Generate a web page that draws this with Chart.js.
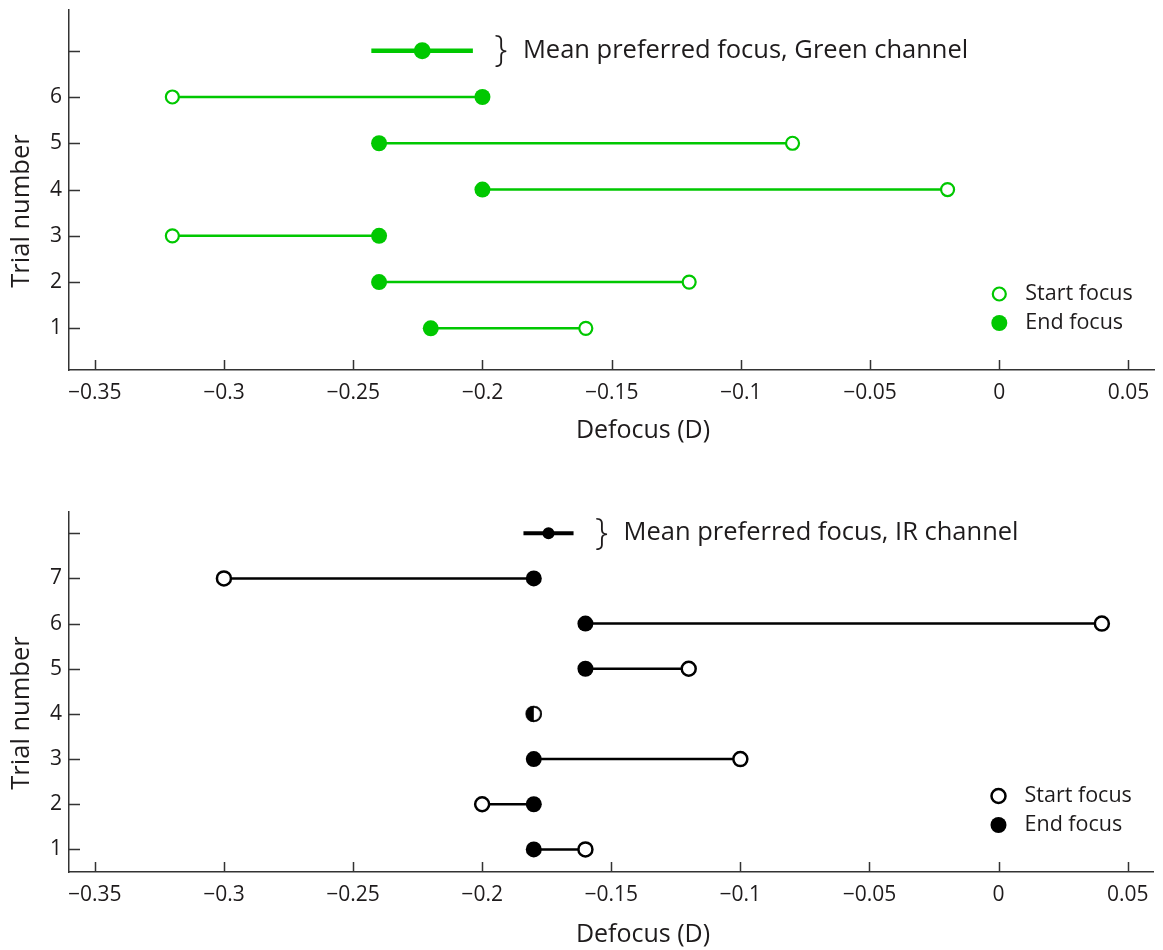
<!DOCTYPE html>
<html>
<head>
<meta charset="utf-8">
<script src="https://cdn.jsdelivr.net/npm/chart.js@4.4.1/dist/chart.umd.min.js"></script>
<style>
  html, body { margin: 0; padding: 0; background: #fff; }
  #wrap { position: relative; width: 1163px; height: 950px; overflow: hidden; }
  .box { position: absolute; left: 0; width: 1163px; }
  #boxTop { top: 0; height: 446px; }
  #boxBot { top: 490px; height: 460px; }
</style>
</head>
<body>
<div id="wrap">
  <div class="box" id="boxTop"><canvas id="cTop" width="1163" height="446"></canvas></div>
  <div class="box" id="boxBot"><canvas id="cBot" width="1163" height="460"></canvas></div>
</div>
<script>
// ---------------- DATA ----------------
const xTicks = [-0.35, -0.3, -0.25, -0.2, -0.15, -0.1, -0.05, 0, 0.05];

// Green channel (top)
const greenTrials = [1, 2, 3, 4, 5, 6];
const greenStart  = [-0.16, -0.12, -0.32, -0.02, -0.08, -0.32];
const greenEnd    = [-0.22, -0.24, -0.24, -0.20, -0.24, -0.20];
const greenMean   = -0.2233;
const greenMeanLo = -0.2430;
const greenMeanHi = -0.2037;
const greenYTicks = [1, 2, 3, 4, 5, 6, 7];
const greenYLabels = ['1', '2', '3', '4', '5', '6', ''];

// IR channel (bottom)
const irTrials = [1, 2, 3, 4, 5, 6, 7];
const irStart  = [-0.16, -0.20, -0.10, -0.18, -0.12, 0.04, -0.30];
const irEnd    = [-0.18, -0.18, -0.18, -0.18, -0.16, -0.16, -0.18];
const irMean   = -0.1743;
const irMeanLo = -0.1840;
const irMeanHi = -0.1646;
const irYTicks = [1, 2, 3, 4, 5, 6, 7, 8];
const irYLabels = ['1', '2', '3', '4', '5', '6', '7', ''];

// ---------------- HELPERS ----------------
const FONT = '"Open Sans", Lato, "DejaVu Sans", sans-serif';
const TEXT_COLOR = '#1e1b1c';
const AXIS_COLOR = '#333333';

function fmtX(v) {
  if (Math.abs(v) < 1e-9) return '0';
  const s = String(parseFloat(Math.abs(v).toFixed(2)));
  return (v < 0 ? '\u2212' : '') + s;
}

function halfMarker(r, color) {
  const s = Math.ceil(r * 2 + 4);
  const c = document.createElement('canvas');
  c.width = s; c.height = s;
  const g = c.getContext('2d');
  const cx = s / 2, cy = s / 2;
  g.fillStyle = '#fff';
  g.beginPath(); g.arc(cx, cy, r, 0, Math.PI * 2); g.fill();
  g.fillStyle = color;
  g.beginPath(); g.moveTo(cx, cy - r); g.arc(cx, cy, r, -Math.PI / 2, Math.PI / 2, true); g.closePath(); g.fill();
  g.strokeStyle = color; g.lineWidth = 1.8;
  g.beginPath(); g.arc(cx, cy, r - 0.9, 0, Math.PI * 2); g.stroke();
  return c;
}

function segmentData(trials, a, b) {
  const out = [];
  trials.forEach((t, i) => {
    out.push({ x: a[i], y: t });
    out.push({ x: b[i], y: t });
    out.push({ x: b[i], y: null });
  });
  return out;
}

function decorPlugin(cfg) {
  return {
    id: 'decor_' + cfg.id,
    afterDraw(chart) {
      const ctx = chart.ctx;
      const area = chart.chartArea;
      const xs = chart.scales.x, ys = chart.scales.y;
      ctx.save();
      // inward ticks
      ctx.strokeStyle = AXIS_COLOR;
      ctx.lineWidth = 1.5;
      ctx.beginPath();
      xs.ticks.forEach(t => {
        const px = Math.round(xs.getPixelForValue(t.value)) + 0.5;
        ctx.moveTo(px, area.bottom);
        ctx.lineTo(px, area.bottom - 10);
      });
      ys.ticks.forEach(t => {
        const py = Math.round(ys.getPixelForValue(t.value)) + 0.5;
        ctx.moveTo(area.left, py);
        ctx.lineTo(area.left + 11, py);
      });
      ctx.stroke();

      // axis titles
      ctx.fillStyle = TEXT_COLOR;
      ctx.font = '25px ' + FONT;
      ctx.textAlign = 'center';
      ctx.textBaseline = 'middle';
      ctx.fillText('Defocus (D)', cfg.xTitleX, cfg.xTitleY);
      ctx.save();
      ctx.translate(22, (area.top + area.bottom) / 2 + 21);
      ctx.rotate(-Math.PI / 2);
      ctx.font = '25.5px ' + FONT;
      ctx.fillText('Trial number', 0, 0);
      ctx.restore();

      // mean legend: brace + text
      const hiPx = xs.getPixelForValue(cfg.meanHi);
      const yPx = ys.getPixelForValue(cfg.meanY);
      ctx.font = '300 37px ' + FONT;
      ctx.textAlign = 'center';
      ctx.fillText('}', hiPx + 28, yPx);
      ctx.font = '25.5px ' + FONT;
      ctx.textAlign = 'left';
      ctx.fillText(cfg.meanText, hiPx + 50, yPx);

      // start / end legend
      const lx = area.right - 155;
      const ly1 = area.bottom - 76, ly2 = area.bottom - 47;
      ctx.lineWidth = cfg.openBorder;
      ctx.strokeStyle = cfg.color;
      ctx.fillStyle = '#fff';
      ctx.beginPath(); ctx.arc(lx, ly1, cfg.openR, 0, Math.PI * 2); ctx.fill(); ctx.stroke();
      ctx.fillStyle = cfg.color;
      ctx.beginPath(); ctx.arc(lx, ly2, cfg.fillR, 0, Math.PI * 2); ctx.fill();
      ctx.fillStyle = TEXT_COLOR;
      ctx.font = '21.5px ' + FONT;
      ctx.textAlign = 'left';
      ctx.fillText('Start focus', lx + 26, ly1);
      ctx.fillText('End focus', lx + 26, ly2);
      ctx.restore();
    }
  };
}

function makeChart(canvasId, opt) {
  const endStyles = opt.trials.map((t, i) =>
    opt.start[i] === opt.end[i] ? halfMarker(opt.fillR, opt.color) : 'circle');
  const datasets = [
    { // end focus (filled)
      data: opt.trials.map((t, i) => ({ x: opt.end[i], y: t })),
      showLine: false, pointStyle: endStyles,
      pointRadius: opt.fillR, pointBackgroundColor: opt.color, pointBorderColor: opt.color,
      pointBorderWidth: 0, order: 1
    },
    { // start focus (open)
      data: opt.trials.map((t, i) => ({ x: opt.start[i], y: t })),
      showLine: false, pointStyle: 'circle',
      pointRadius: opt.openR, pointBackgroundColor: '#fff', pointBorderColor: opt.color,
      pointBorderWidth: opt.openBorder, order: 2
    },
    { // connectors
      data: segmentData(opt.trials, opt.start, opt.end),
      borderColor: opt.color, borderWidth: opt.lineW, pointRadius: 0,
      spanGaps: false, order: 5
    },
    { // mean dot
      data: [{ x: opt.mean, y: opt.meanY }],
      showLine: false, pointRadius: opt.meanR, pointBackgroundColor: opt.color,
      pointBorderWidth: 0, order: 0
    },
    { // mean +/- bar
      data: [{ x: opt.meanLo, y: opt.meanY }, { x: opt.meanHi, y: opt.meanY }],
      borderColor: opt.color, borderWidth: opt.meanW, pointRadius: 0, order: 4,
      borderCapStyle: 'butt'
    }
  ];

  return new Chart(document.getElementById(canvasId), {
    type: 'line',
    data: { datasets },
    options: {
      responsive: false,
      animation: false,
      devicePixelRatio: 1,
      layout: { padding: { top: opt.padTop, right: 3, left: 0, bottom: 0 } },
      plugins: { legend: { display: false }, tooltip: { enabled: false } },
      elements: { line: { tension: 0 } },
      scales: {
        x: {
          type: 'linear', min: -0.36, max: 0.06,
          afterBuildTicks: s => { s.ticks = xTicks.map(v => ({ value: v })); },
          afterFit: s => { s.height = opt.xAxisH; s.paddingLeft = 0; s.paddingRight = 0; },
          grid: { display: false, drawTicks: false },
          border: { display: true, color: AXIS_COLOR, width: 1.5 },
          ticks: {
            padding: 10, maxRotation: 0, autoSkip: false,
            color: TEXT_COLOR, font: { family: FONT, size: 21 },
            callback: v => fmtX(v)
          }
        },
        y: {
          type: 'linear', min: opt.yMin, max: opt.yMax,
          afterBuildTicks: s => { s.ticks = opt.yTicks.map(v => ({ value: v })); },
          afterFit: s => { s.width = 69; s.paddingTop = 0; s.paddingBottom = 0; },
          grid: { display: false, drawTicks: false },
          border: { display: true, color: AXIS_COLOR, width: 1.5 },
          ticks: {
            padding: 7, autoSkip: false,
            color: TEXT_COLOR, font: { family: FONT, size: 21 },
            callback: (v) => { const i = opt.yTicks.indexOf(v); return i >= 0 ? opt.yLabels[i] : ''; }
          }
        }
      }
    },
    plugins: [decorPlugin(opt)]
  });
}

const GREEN = 'rgb(0,200,0)';
makeChart('cTop', {
  id: 'top', color: GREEN,
  trials: greenTrials, start: greenStart, end: greenEnd,
  mean: greenMean, meanLo: greenMeanLo, meanHi: greenMeanHi, meanY: 7,
  meanText: 'Mean preferred focus, Green channel',
  yTicks: greenYTicks, yLabels: greenYLabels, yMin: 0.1, yMax: 7.88,
  padTop: 10, xAxisH: 76, xTitleX: 643, xTitleY: 431,
  fillR: 8, openR: 6.5, openBorder: 2.2, lineW: 2.5, meanR: 8.5, meanW: 4.5
});

makeChart('cBot', {
  id: 'bot', color: '#000',
  trials: irTrials, start: irStart, end: irEnd,
  mean: irMean, meanLo: irMeanLo, meanHi: irMeanHi, meanY: 8,
  meanText: 'Mean preferred focus, IR channel',
  yTicks: irYTicks, yLabels: irYLabels, yMin: 0.5, yMax: 8.47,
  padTop: 22, xAxisH: 78, xTitleX: 643, xTitleY: 445,
  fillR: 8, openR: 7, openBorder: 2.5, lineW: 2.5, meanR: 6, meanW: 4
});
</script>
</body>
</html>
